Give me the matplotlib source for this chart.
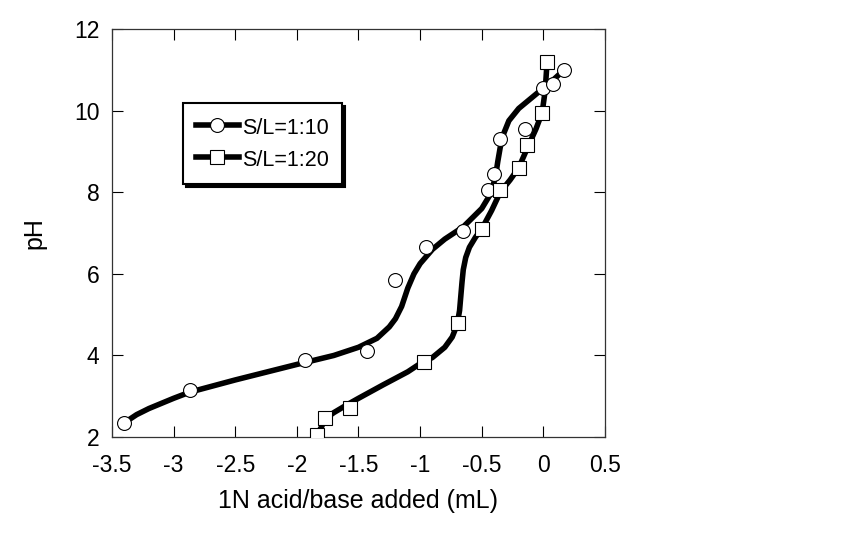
import matplotlib.pyplot as plt

plt.rcParams['font.family'] = ['Liberation Sans', 'DejaVu Sans']

# measured points, S/L = 1:10 (circles)
x_10 = [-3.4, -2.87, -1.93, -1.43, -1.2, -0.95, -0.65, -0.45, -0.4, -0.35, -0.15, 0.0, 0.08, 0.17]
ph_10 = [2.35, 3.15, 3.88, 4.1, 5.85, 6.65, 7.05, 8.05, 8.45, 9.3, 9.55, 10.55, 10.65, 11.0]

# measured points, S/L = 1:20 (squares)
x_20 = [-1.84, -1.77, -1.57, -0.97, -0.69, -0.5, -0.35, -0.2, -0.13, -0.01, 0.03]
ph_20 = [2.05, 2.47, 2.72, 3.85, 4.8, 7.1, 8.05, 8.6, 9.15, 9.95, 11.2]

# smoothed curves
cx_10 = [-3.4, -3.3, -3.2, -3.0, -2.87, -2.5, -2.0, -1.7, -1.5, -1.35, -1.25, -1.2, -1.15, -1.1,
         -1.05, -1.0, -0.9, -0.8, -0.65, -0.5, -0.43, -0.39, -0.37, -0.35, -0.32, -0.28, -0.2,
         -0.1, 0.0, 0.08, 0.17]
cy_10 = [2.35, 2.55, 2.7, 2.95, 3.1, 3.4, 3.78, 4.0, 4.2, 4.42, 4.7, 4.9, 5.2, 5.65,
         6.0, 6.25, 6.6, 6.85, 7.15, 7.6, 7.95, 8.35, 8.75, 9.1, 9.45, 9.75, 10.05,
         10.3, 10.55, 10.75, 11.0]

cx_20 = [-1.84, -1.8, -1.77, -1.7, -1.6, -1.5, -1.3, -1.1, -1.0, -0.9, -0.8, -0.74, -0.7,
         -0.68, -0.67, -0.66, -0.65, -0.63, -0.6, -0.55, -0.5, -0.42, -0.35, -0.27, -0.2,
         -0.12, -0.06, -0.01, 0.015, 0.03]
cy_20 = [2.05, 2.25, 2.45, 2.6, 2.78, 2.95, 3.28, 3.6, 3.8, 3.95, 4.2, 4.45, 4.75,
         5.1, 5.45, 5.8, 6.1, 6.4, 6.65, 6.9, 7.1, 7.55, 8.0, 8.3, 8.6,
         9.15, 9.55, 9.95, 10.5, 11.2]

xticks = [-3.5, -3, -2.5, -2, -1.5, -1, -0.5, 0, 0.5]
xtick_labels = ['-3.5', '-3', '-2.5', '-2', '-1.5', '-1', '-0.5', '0', '0.5']
yticks = [2, 4, 6, 8, 10, 12]

fig = plt.figure(figsize=(8.45, 5.35), dpi=100)
ax = fig.add_axes([0.1325, 0.183, 0.5835, 0.763])

ax.plot(cx_10, cy_10, color='black', lw=4, solid_capstyle='round', solid_joinstyle='round', zorder=2)
ax.plot(cx_20, cy_20, color='black', lw=4, solid_capstyle='round', solid_joinstyle='round', zorder=2)
ax.plot(x_10, ph_10, 'o', ms=10, mfc='white', mec='black', mew=0.8, zorder=3)
ax.plot(x_20, ph_20, 's', ms=10, mfc='white', mec='black', mew=0.8, zorder=3)

# legend handles
h1, = ax.plot([], [], '-o', color='black', lw=4, ms=10, mfc='white', mec='black', mew=0.8)
h2, = ax.plot([], [], '-s', color='black', lw=4, ms=10, mfc='white', mec='black', mew=0.8)
leg = ax.legend([h1, h2], ['S/L=1:10', 'S/L=1:20'], loc='upper left',
                bbox_to_anchor=(0.144, 0.819), borderaxespad=0, fontsize=15.5,
                fancybox=False, framealpha=1, edgecolor='black',
                shadow={'color': 'black', 'alpha': 1}, handlelength=2.0,
                handleheight=1.2, handletextpad=0.15, labelspacing=0.42,
                borderpad=0.6)
leg.get_frame().set_linewidth(1.5)

ax.set_xlim(-3.5, 0.5)
ax.set_ylim(2, 12)
ax.set_xticks(xticks)
ax.set_xticklabels(xtick_labels)
ax.set_yticks(yticks)
ax.tick_params(direction='in', length=8, width=0.8, top=True, right=True,
               labelsize=16.5)
ax.tick_params(axis='x', pad=12)
ax.tick_params(axis='y', pad=9)
for s in ax.spines.values():
    s.set_linewidth(0.9)
    s.set_color('#333333')

ax.set_xlabel('1N acid/base added (mL)', fontsize=18, labelpad=9)
ax.set_ylabel('pH', fontsize=18, labelpad=20)

fig.savefig('out.png', dpi=100)
